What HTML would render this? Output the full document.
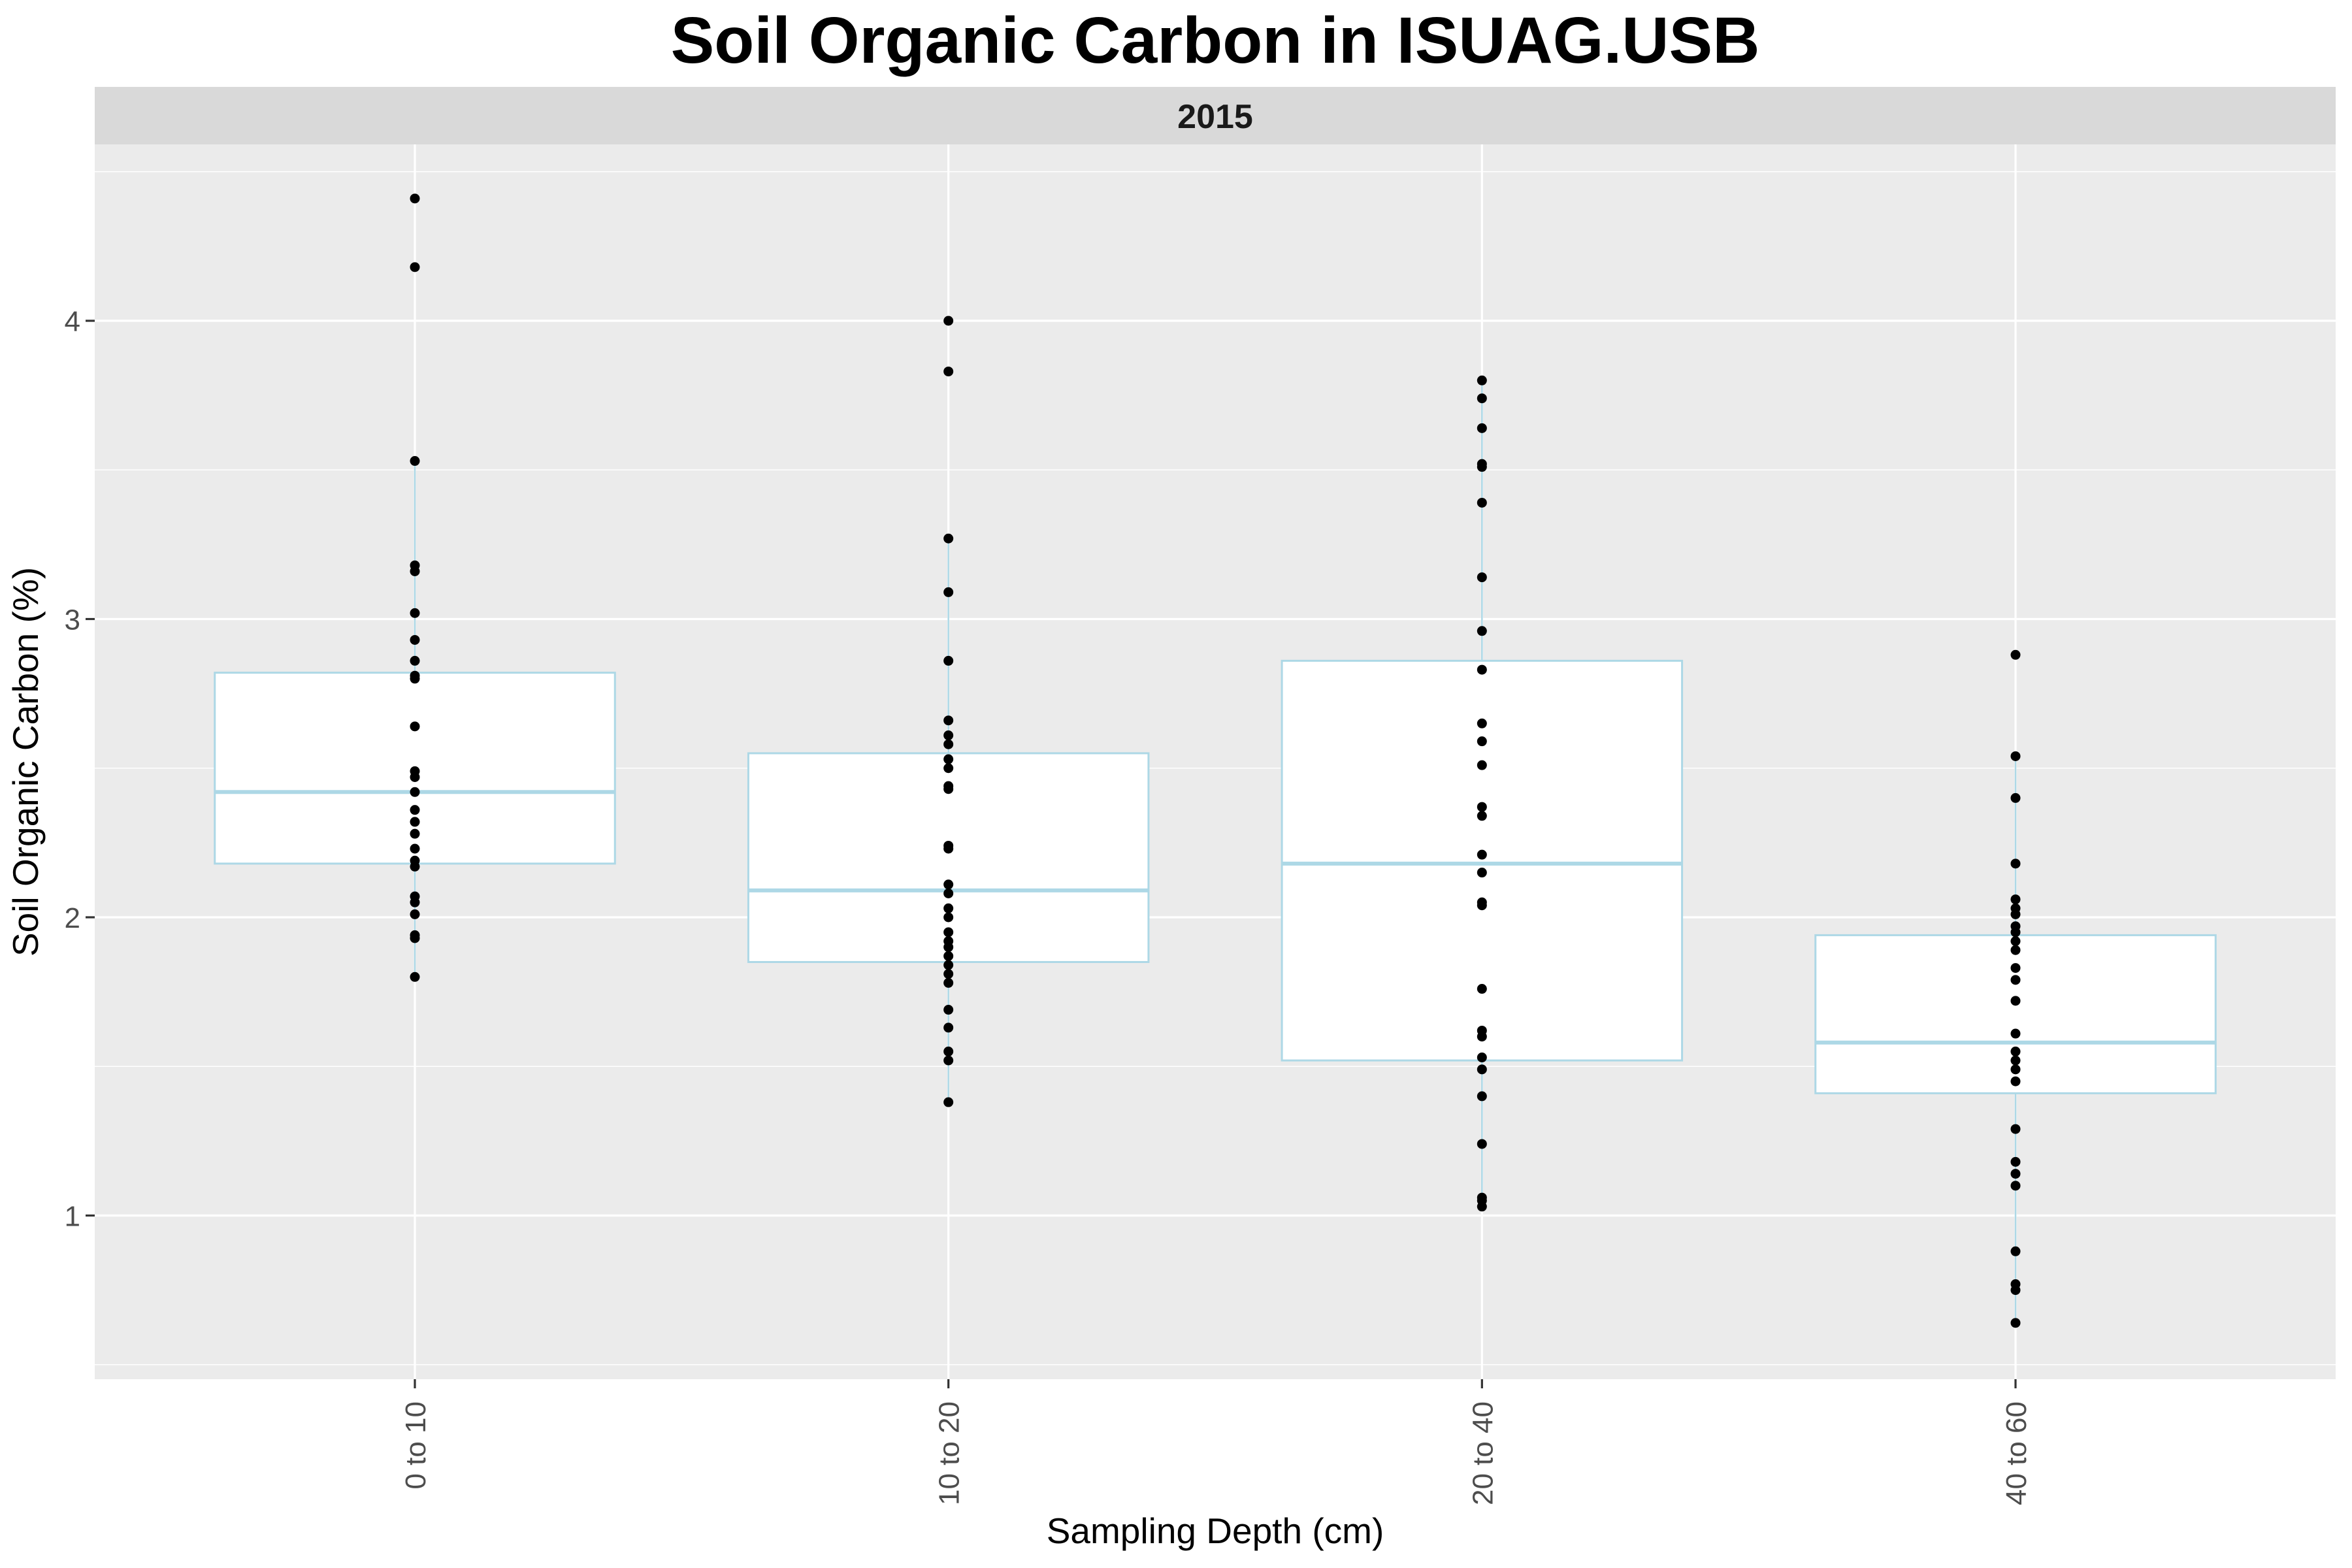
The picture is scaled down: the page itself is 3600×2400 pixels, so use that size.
<!DOCTYPE html>
<html><head><meta charset="utf-8"><style>
html,body{margin:0;padding:0;background:#fff;}
svg{display:block;font-family:"Liberation Sans",Arial,sans-serif;}
</style></head><body>
<svg id="chart" width="3600" height="2400" viewBox="0 0 3600 2400">
<text x="1860" y="96" text-anchor="middle" font-size="100" font-weight="bold" fill="#000">Soil Organic Carbon in ISUAG.USB</text>
<rect x="145" y="133" width="3430" height="88" fill="#d9d9d9"></rect>
<text x="1860" y="196" text-anchor="middle" font-size="52" font-weight="bold" fill="#1a1a1a">2015</text>
<rect x="145" y="221" width="3430" height="1890" fill="#ebebeb"></rect>
<g id="grid"></g>
<g id="boxes"></g>
<g id="points"></g>
<g id="axes"></g>
<text x="1860" y="2362" text-anchor="middle" font-size="55" fill="#000">Sampling Depth (cm)</text>
<text transform="translate(58,1166) rotate(-90)" text-anchor="middle" font-size="55" fill="#000">Soil Organic Carbon (%)</text>
</svg>
<script>
const categories = ["0 to 10","10 to 20","20 to 40","40 to 60"];
const yTicks = [1,2,3,4];
const yMinor = [0.5,1.5,2.5,3.5,4.5];
const q1 = [2.18,1.85,1.52,1.41];
const median = [2.42,2.09,2.18,1.58];
const q3 = [2.82,2.55,2.86,1.94];
const whiskerLo = [1.80,1.38,1.03,0.64];
const whiskerHi = [3.53,3.27,3.80,2.54];
const pts0 = [4.41,4.18,3.53,3.18,3.16,3.02,2.93,2.86,2.81,2.80,2.64,2.49,2.47,2.42,2.36,2.32,2.28,2.23,2.19,2.17,2.07,2.05,2.01,1.94,1.93,1.80];
const pts1 = [4.00,3.83,3.27,3.09,2.86,2.66,2.61,2.58,2.53,2.50,2.44,2.43,2.24,2.23,2.11,2.08,2.03,2.00,1.95,1.92,1.90,1.87,1.84,1.81,1.78,1.69,1.63,1.55,1.52,1.38];
const pts2 = [3.80,3.74,3.64,3.52,3.51,3.39,3.14,2.96,2.83,2.65,2.59,2.51,2.37,2.34,2.21,2.15,2.05,2.04,1.76,1.62,1.60,1.53,1.49,1.40,1.24,1.06,1.05,1.03];
const pts3 = [2.88,2.54,2.40,2.18,2.06,2.03,2.01,1.97,1.95,1.92,1.89,1.83,1.79,1.72,1.61,1.55,1.52,1.49,1.45,1.29,1.18,1.14,1.10,0.88,0.77,0.75,0.64];
const points = [pts0,pts1,pts2,pts3];

const NS="http://www.w3.org/2000/svg";
const PL=145, PR=3575, PT=221, PB=2111;
function yScale(v){ return 491 + (4 - v) * 456.5; }
function xScale(i){ return PL + (i + 1 - 0.4) * ((PR-PL)/4.2); }
const bandW = 0.75 * ((PR-PL)/4.2);
function mk(tag, attrs, parent){ const e=document.createElementNS(NS,tag); for(const k in attrs) e.setAttribute(k,attrs[k]); parent.appendChild(e); return e; }
const grid=document.getElementById('grid'), boxes=document.getElementById('boxes'), pg=document.getElementById('points'), axes=document.getElementById('axes');

yMinor.forEach(v=>{
  const l=mk('line',{x1:PL,x2:PR,y1:yScale(v),y2:yScale(v),stroke:'#fff','stroke-width':1.6},grid);
  
  
});
yTicks.forEach(v=>{
  const l=mk('line',{x1:PL,x2:PR,y1:yScale(v),y2:yScale(v),stroke:'#fff','stroke-width':3.2},grid);
  
  
  const t=mk('line',{x1:PL-14,x2:PL,y1:yScale(v),y2:yScale(v),stroke:'#333','stroke-width':3.2},axes);
  
  
  const tx=mk('text',{x:PL-22,y:yScale(v)+16,'text-anchor':'end','font-size':44,fill:'#4d4d4d'},axes);
  tx.textContent=v;
  
  
});
categories.forEach((c,i)=>{
  const x=xScale(i);
  const l=mk('line',{x1:x,x2:x,y1:PT,y2:PB,stroke:'#fff','stroke-width':3.2},grid);
  
  
  const t=mk('line',{x1:x,x2:x,y1:PB,y2:PB+14,stroke:'#333','stroke-width':3.2},axes);
  
  
  const tx=mk('text',{transform:`translate(${x+16},${PB+34}) rotate(-90)`,'text-anchor':'end','font-size':44,fill:'#4d4d4d'},axes);
  tx.textContent=c;
  
  

  const g=mk('g',{},boxes);
  
  
  const w1=mk('line',{x1:x,x2:x,y1:yScale(q3[i]),y2:yScale(whiskerHi[i]),stroke:'#add8e6','stroke-width':2.5},g);
  
  
  const w2=mk('line',{x1:x,x2:x,y1:yScale(q1[i]),y2:yScale(whiskerLo[i]),stroke:'#add8e6','stroke-width':2.5},g);
  
  
  const r=mk('rect',{x:x-bandW/2,y:yScale(q3[i]),width:bandW,height:yScale(q1[i])-yScale(q3[i]),fill:'#fff',stroke:'#add8e6','stroke-width':3},g);
  
  
  const m=mk('line',{x1:x-bandW/2,x2:x+bandW/2,y1:yScale(median[i]),y2:yScale(median[i]),stroke:'#add8e6','stroke-width':6},g);
  
  

  points[i].forEach(v=>{
    const p=mk('circle',{cx:x,cy:yScale(v),r:7.5,fill:'#000'},pg);
    
    
  });
});
</script>
</body></html>
